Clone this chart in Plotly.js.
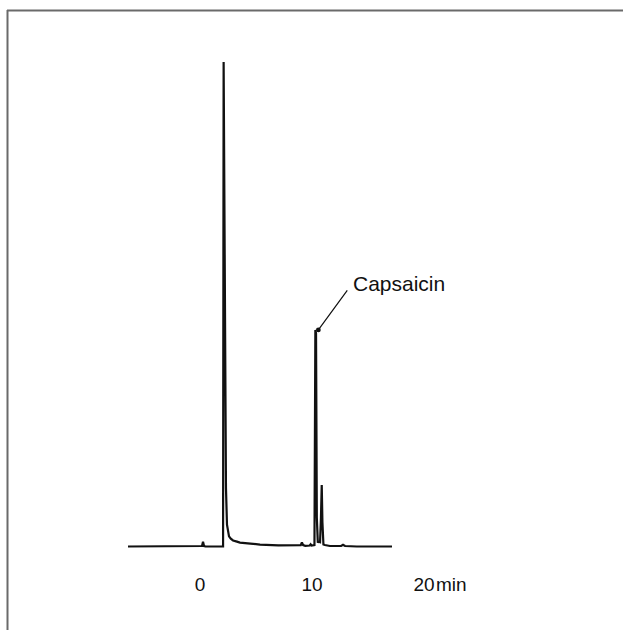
<!DOCTYPE html>
<html>
<head>
<meta charset="utf-8">
<script src="https://cdn.plot.ly/plotly-3.0.1.min.js"></script>
<style>
html,body{margin:0;padding:0;background:#fff;}
#chart{width:623px;height:630px;}
</style>
</head>
<body>
<div id="chart"></div>
<script>
// Retention time (min) and detector signal (relative, main peak = 100)
const retentionTime = [-6.43, -3.0, 0.05, 0.18, 0.27, 0.36, 0.5, 2.06, 2.11, 2.16, 2.25, 2.32, 2.41, 2.5, 2.59, 2.75, 2.95, 3.3, 3.57, 4.5, 5.36, 7.0, 8.9, 9.0, 9.1, 9.2, 9.4, 9.8, 9.88, 9.96, 10.22, 10.3, 10.36, 10.43, 10.52, 10.6, 10.72, 10.8, 10.87, 10.93, 11.02, 11.15, 11.6, 12.6, 12.77, 12.95, 14.0, 17.14];
const detectorSignal = [0.0, 0.0, 0.0, 0.1, 1.0, 0.1, 0.0, 0.0, 100, 70, 30, 12, 4.5, 2.8, 2.1, 1.6, 1.25, 1.0, 0.8, 0.6, 0.4, 0.25, 0.15, 0.3, 0.85, 0.3, 0.15, 0.2, 0.45, 0.2, 0.3, 44.7, 44.0, 6.0, 0.8, 1.0, 0.9, 6.0, 12.7, 5.0, 0.4, 0.3, 0.1, 0.1, 0.35, 0.1, 0.0, 0.0];

const tickValues = [0, 10, 20];
const tickLabels = ['0', '10', '20'];
const unitLabel = 'min';
const peakName = 'Capsaicin';

// locate the capsaicin peak apex from the data (largest signal between 9.5 and 11 min)
let capIdx = -1;
retentionTime.forEach((t, i) => {
  if (t > 9.5 && t < 11 && (capIdx < 0 || detectorSignal[i] > detectorSignal[capIdx])) capIdx = i;
});
const capTime = retentionTime[capIdx];
const capSignal = detectorSignal[capIdx];

// pixel layout helpers
const W = 623, H = 630, B = 59;
const plotH = H - B;
const x0px = 200, pxPerMin = 11.2;
const basePx = 546.5, pxPerUnit = 4.845;

const xRange = [-x0px / pxPerMin, (W - x0px) / pxPerMin];
const yRange = [-(plotH - basePx) / pxPerUnit, basePx / pxPerUnit];
const font = 'Liberation Sans, Arial, Helvetica, sans-serif';

const trace = {
  x: retentionTime,
  y: detectorSignal,
  type: 'scatter',
  mode: 'lines',
  line: {color: '#111', width: 2.2},
  hoverinfo: 'skip'
};

const layout = {
  width: W, height: H,
  margin: {l: 0, r: 0, t: 0, b: B, pad: 0},
  paper_bgcolor: '#fff',
  plot_bgcolor: '#fff',
  showlegend: false,
  xaxis: {
    range: xRange,
    tickmode: 'array',
    tickvals: tickValues,
    ticktext: tickLabels,
    ticks: '',
    showline: false, showgrid: false, zeroline: false,
    tickfont: {family: font, size: 19, color: '#111'},
    fixedrange: true
  },
  yaxis: {
    range: yRange,
    showticklabels: false, showline: false, showgrid: false, zeroline: false,
    ticks: '', fixedrange: true
  },
  shapes: [
    {type: 'line', xref: 'paper', yref: 'paper', x0: 7 / W, x1: 1, y0: 1 - 10.5 / plotH, y1: 1 - 10.5 / plotH, line: {color: '#6a6a6a', width: 2}},
    {type: 'line', xref: 'paper', yref: 'paper', x0: 7.5 / W, x1: 7.5 / W, y0: 1 - 10 / plotH, y1: 1 - H / plotH, line: {color: '#6a6a6a', width: 2}}
  ],
  annotations: [
    {
      x: (351 - x0px) / pxPerMin, y: (basePx - 283) / pxPerUnit,
      xref: 'x', yref: 'y', xanchor: 'left', yanchor: 'middle',
      text: peakName, showarrow: false,
      font: {family: font, size: 21, color: '#111'}
    },
    {
      x: capTime, y: capSignal, xref: 'x', yref: 'y', xshift: 3,
      text: '', showarrow: true, arrowhead: 6, arrowsize: 1, arrowwidth: 1.2,
      arrowcolor: '#111', ax: 30, ay: -41
    },
    {
      x: tickValues[2], xref: 'x', xshift: 9.5, xanchor: 'left',
      y: 1 - 584 / plotH, yref: 'paper', yanchor: 'middle',
      text: unitLabel, showarrow: false,
      font: {family: font, size: 19, color: '#111'}
    }
  ]
};

Plotly.newPlot('chart', [trace], layout, {displayModeBar: false, staticPlot: true});
</script>
</body>
</html>
